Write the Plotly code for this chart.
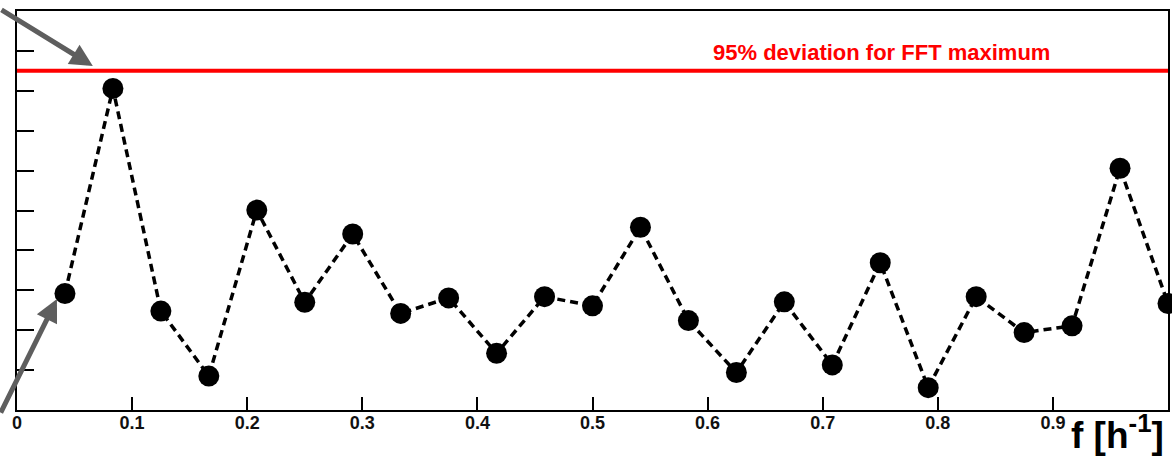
import plotly.graph_objects as go

# Data
freq = [k / 24 for k in range(1, 25)]
amplitude = [2.92, 8.06, 2.48, 0.85, 5.01, 2.70, 4.41, 2.42, 2.81, 1.42, 2.84, 2.61,
             4.58, 2.24, 0.94, 2.71, 1.13, 3.69, 0.56, 2.84, 1.94, 2.11, 6.06, 2.67]
threshold = 8.5
threshold_label = "95% deviation for FFT maximum"
x_tickvals = [0, 0.1, 0.2, 0.3, 0.4, 0.5, 0.6, 0.7, 0.8, 0.9, 1.0]
x_ticktext = ["0", "0.1", "0.2", "0.3", "0.4", "0.5", "0.6", "0.7", "0.8", "0.9", "1"]
x_title = "f [h<sup>-1</sup>]"

fig = go.Figure()
fig.add_trace(go.Scatter(
    x=freq, y=amplitude, mode="lines+markers",
    line=dict(color="black", width=3.5, dash="8px,5px"),
    marker=dict(color="black", size=21),
    showlegend=False, cliponaxis=False,
))

fig.add_shape(type="line", xref="paper", x0=0, x1=1, yref="y", y0=threshold, y1=threshold,
              line=dict(color="#ff0000", width=4))

fig.add_annotation(x=0.751, y=8.97, xref="x", yref="y", text="<b>%s</b>" % threshold_label,
                   showarrow=False, font=dict(family="Liberation Sans, Arial", size=22, color="#ff0000"),
                   xanchor="center", yanchor="middle")

arrow_color = "#5e5e5e"
fig.add_annotation(x=0.0659, y=8.62, xref="x", yref="y", text="", showarrow=True,
                   ax=-110, ay=-57, arrowhead=2, arrowsize=0.9, arrowwidth=5, arrowcolor=arrow_color)
fig.add_annotation(x=0.0347, y=2.78, xref="x", yref="y", text="", showarrow=True,
                   ax=-70, ay=115, arrowhead=2, arrowsize=0.9, arrowwidth=5, arrowcolor=arrow_color)

fig.add_annotation(x=1, y=0, xref="paper", yref="paper", text="<b>%s</b>" % x_title,
                   showarrow=False, xanchor="right", yanchor="top", yshift=3, xshift=-2,
                   font=dict(family="Liberation Sans, Arial", size=37, color="black"))

fig.update_layout(
    width=1172, height=458,
    margin=dict(l=17, r=2, t=11, b=48),
    plot_bgcolor="white", paper_bgcolor="white",
    font=dict(family="Liberation Sans, Arial", color="black"),
)
fig.update_xaxes(range=[0, 1], tickvals=x_tickvals, ticktext=["<b>%s</b>" % t for t in x_ticktext],
                 ticks="inside", ticklen=13, tickwidth=2, tickcolor="black",
                 ticklabelstandoff=-5,
                 showline=True, linecolor="black", linewidth=2, mirror=True,
                 showgrid=False, zeroline=False, tickfont=dict(size=18, color="#111"))
fig.update_yaxes(range=[0, 10], dtick=1, ticks="inside", ticklen=17, tickwidth=2, tickcolor="black",
                 showticklabels=False,
                 showline=True, linecolor="black", linewidth=2, mirror=True,
                 showgrid=False, zeroline=False)

fig.write_html("out.html", config={"displayModeBar": False},
               post_script="document.body.style.margin='0';document.body.style.overflow='hidden';")
